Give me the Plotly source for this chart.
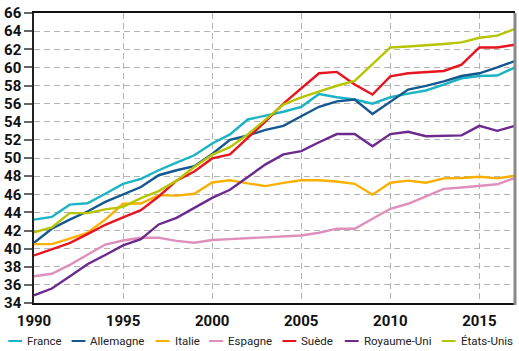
import plotly.graph_objects as go

years = list(range(1990, 2018))

france = [43.2, 43.5, 44.85, 45.0, 46.05, 47.15, 47.7, 48.65, 49.5, 50.3, 51.6, 52.6, 54.25, 54.65,
          55.1, 55.65, 57.05, 56.7, 56.45, 56.0, 56.7, 57.1, 57.45, 58.1, 58.8, 59.05, 59.1, 60.0]
allemagne = [40.65, 42.2, 43.2, 44.1, 45.15, 45.95, 46.8, 48.1, 48.65, 49.1, 50.45, 52.0, 52.5, 53.1,
             53.55, 54.6, 55.65, 56.25, 56.45, 54.85, 56.2, 57.55, 57.95, 58.45, 59.05, 59.35, 60.0, 60.7]
italie = [40.5, 40.5, 41.1, 41.75, 43.2, 44.95, 44.98, 45.9, 45.85, 46.05, 47.3, 47.55, 47.2, 46.9,
          47.25, 47.55, 47.55, 47.4, 47.15, 45.95, 47.27, 47.5, 47.27, 47.75, 47.8, 47.93, 47.75, 48.04]
espagne = [36.95, 37.23, 38.2, 39.3, 40.45, 40.9, 41.2, 41.2, 40.85, 40.65, 40.95, 41.05, 41.15, 41.25,
           41.35, 41.45, 41.75, 42.2, 42.2, 43.3, 44.4, 44.95, 45.75, 46.6, 46.75, 46.9, 47.1, 47.8]
suede = [39.25, 39.95, 40.6, 41.6, 42.63, 43.45, 44.25, 45.75, 47.5, 48.5, 49.95, 50.4, 52.2, 54.05,
         56.0, 57.7, 59.35, 59.5, 58.1, 57.0, 59.0, 59.35, 59.45, 59.6, 60.3, 62.2, 62.2, 62.5]
royaume_uni = [34.85, 35.6, 36.92, 38.27, 39.3, 40.35, 41.05, 42.67, 43.4, 44.5, 45.6, 46.5, 47.85, 49.3,
               50.4, 50.76, 51.74, 52.64, 52.64, 51.3, 52.64, 52.9, 52.4, 52.45, 52.5, 53.55, 53.0, 53.55]
etats_unis = [41.8, 42.35, 43.92, 43.92, 44.33, 44.6, 45.58, 46.35, 47.5, 49.0, 50.35, 51.2, 52.6, 54.3,
              55.9, 56.7, 57.35, 57.97, 58.5, 60.4, 62.2, 62.3, 62.4, 62.58, 62.76, 63.27, 63.5, 64.25]

series_names = ["France", "Allemagne", "Italie", "Espagne", "Suède", "Royaume-Uni", "États-Unis"]
series_values = [france, allemagne, italie, espagne, suede, royaume_uni, etats_unis]
colors = ["#1ab4c4", "#15578f", "#fbb000", "#df8fbc", "#e8141f", "#6b2a8c", "#b7c500"]

y_ticks = list(range(34, 67, 2))
x_ticks = [1990, 1995, 2000, 2005, 2010, 2015]

fig = go.Figure()
for name, vals, col in zip(series_names, series_values, colors):
    fig.add_trace(go.Scatter(x=years, y=vals, mode="lines", name=name,
                             line=dict(color=col, width=2.4), showlegend=False))

# Manual legend (pixel layout converted to paper coordinates)
L, R, T, B = 29.0, 515.0, 9.0, 303.0
W, H = R - L, B - T
def px_x(p):
    return (p - L) / W
def px_y(p):
    return (B - p) / H

legend_line_starts = [3, 67, 152, 206, 280, 343, 441]
leg_y = 341.5
shapes = []
annotations = []
for name, col, x0 in zip(series_names, colors, legend_line_starts):
    shapes.append(dict(type="line", xref="paper", yref="paper",
                       x0=px_x(x0), x1=px_x(x0 + 14), y0=px_y(leg_y), y1=px_y(leg_y),
                       line=dict(color=col, width=2)))
    annotations.append(dict(xref="paper", yref="paper", x=px_x(x0 + 17), y=px_y(leg_y),
                            text=name, showarrow=False, xanchor="left", yanchor="middle",
                            font=dict(family="Roboto", size=11.5, color="#222")))

# right border (gray)
shapes.append(dict(type="line", xref="paper", yref="paper", x0=1, x1=1, y0=-0.007, y1=1,
                   line=dict(color="#8a8a8a", width=3)))

fig.update_layout(
    width=519, height=351,
    margin=dict(l=29, r=4, t=9, b=48),
    paper_bgcolor="white", plot_bgcolor="white",
    shapes=shapes, annotations=annotations,
    xaxis=dict(range=[1990, 2017], tickvals=x_ticks, ticktext=[str(v) for v in x_ticks],
               showgrid=True, gridcolor="#b4b4b4", griddash="6px,4px", gridwidth=1,
               showline=True, linecolor="#111", linewidth=1.5, mirror=True,
               ticks="", ticklabelstandoff=3,
               tickfont=dict(family="Roboto", size=15, color="#111", weight="bold"),
               zeroline=False, fixedrange=True),
    yaxis=dict(range=[34, 66], tickvals=y_ticks, ticktext=[str(v) for v in y_ticks],
               showgrid=True, gridcolor="#b4b4b4", griddash="6px,4px", gridwidth=1,
               showline=True, linecolor="#222", linewidth=1.5,
               ticks="outside", ticklen=8, tickwidth=2, tickcolor="#666",
               tickfont=dict(family="Roboto", size=15, color="#111", weight="bold"),
               zeroline=False, fixedrange=True),
)

fig.write_html("out.html")
